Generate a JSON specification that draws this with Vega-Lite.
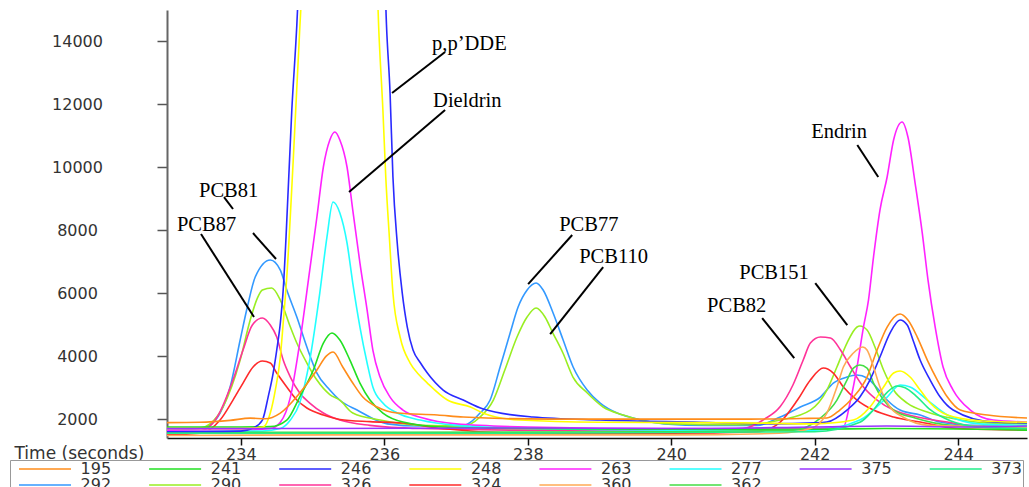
{
"$schema": "https://vega.github.io/schema/vega-lite/v6.json",
"width": 860, "height": 428,
"autosize": {"type": "none"},
"padding": {"left": 167, "top": 10, "right": 2, "bottom": 49},
"background": "white",
"datasets": {
"traces": [
{"s":"292","t":232.97,"v":1650},{"s":"292","t":233.43,"v":1700},{"s":"292","t":233.57,"v":1811},{"s":"292","t":233.71,"v":2193},{"s":"292","t":233.85,"v":3020},{"s":"292","t":233.99,"v":4513},{"s":"292","t":234.09,"v":5561},{"s":"292","t":234.2,"v":6515},{"s":"292","t":234.41,"v":7055},{"s":"292","t":234.55,"v":6737},{"s":"292","t":234.64,"v":6102},{"s":"292","t":234.78,"v":5244},{"s":"292","t":234.92,"v":4290},{"s":"292","t":235.06,"v":3464},{"s":"292","t":235.24,"v":2924},{"s":"292","t":235.38,"v":2600},{"s":"292","t":235.62,"v":2288},{"s":"292","t":236.04,"v":1850},{"s":"292","t":236.5,"v":1780},{"s":"292","t":237.1,"v":1800},{"s":"292","t":237.335,"v":2193},{"s":"292","t":237.475,"v":2606},{"s":"292","t":237.614,"v":3655},{"s":"292","t":237.754,"v":4735},{"s":"292","t":237.865,"v":5561},{"s":"292","t":237.991,"v":6102},{"s":"292","t":238.116,"v":6324},{"s":"292","t":238.214,"v":6102},{"s":"292","t":238.353,"v":5371},{"s":"292","t":238.493,"v":4513},{"s":"292","t":238.632,"v":3655},{"s":"292","t":238.828,"v":2924},{"s":"292","t":239.009,"v":2510},{"s":"292","t":239.246,"v":2193},{"s":"292","t":239.469,"v":2034},{"s":"292","t":239.9,"v":1850},{"s":"292","t":240.5,"v":1800},{"s":"292","t":241.2,"v":1800},{"s":"292","t":241.52,"v":2066},{"s":"292","t":241.8,"v":2384},{"s":"292","t":242.08,"v":2701},{"s":"292","t":242.26,"v":3146},{"s":"292","t":242.45,"v":3337},{"s":"292","t":242.59,"v":3400},{"s":"292","t":242.73,"v":3305},{"s":"292","t":242.87,"v":2987},{"s":"292","t":243.01,"v":2606},{"s":"292","t":243.19,"v":2288},{"s":"292","t":243.47,"v":2130},{"s":"292","t":243.75,"v":1907},{"s":"292","t":244.2,"v":1800},{"s":"292","t":244.96,"v":1780},
{"s":"290","t":232.97,"v":1700},{"s":"290","t":233.43,"v":1720},{"s":"290","t":233.57,"v":1850},{"s":"290","t":233.75,"v":2384},{"s":"290","t":233.99,"v":3877},{"s":"290","t":234.13,"v":5148},{"s":"290","t":234.23,"v":5847},{"s":"290","t":234.3,"v":6102},{"s":"290","t":234.43,"v":6165},{"s":"290","t":234.55,"v":5784},{"s":"290","t":234.69,"v":4926},{"s":"290","t":234.78,"v":4417},{"s":"290","t":234.92,"v":3782},{"s":"290","t":235.06,"v":3241},{"s":"290","t":235.24,"v":2780},{"s":"290","t":235.38,"v":2600},{"s":"290","t":235.56,"v":2193},{"s":"290","t":235.94,"v":1970},{"s":"290","t":236.5,"v":1800},{"s":"290","t":237.1,"v":1780},{"s":"290","t":237.335,"v":2066},{"s":"290","t":237.52,"v":2606},{"s":"290","t":237.68,"v":3559},{"s":"290","t":237.85,"v":4608},{"s":"290","t":237.99,"v":5244},{"s":"290","t":238.116,"v":5530},{"s":"290","t":238.24,"v":5244},{"s":"290","t":238.35,"v":4735},{"s":"290","t":238.49,"v":4100},{"s":"290","t":238.63,"v":3337},{"s":"290","t":238.83,"v":2828},{"s":"290","t":239.05,"v":2384},{"s":"290","t":239.33,"v":2130},{"s":"290","t":239.57,"v":1970},{"s":"290","t":240.0,"v":1850},{"s":"290","t":241.0,"v":1820},{"s":"290","t":241.52,"v":1970},{"s":"290","t":241.94,"v":2288},{"s":"290","t":242.17,"v":2924},{"s":"290","t":242.31,"v":3655},{"s":"290","t":242.45,"v":4417},{"s":"290","t":242.59,"v":4926},{"s":"290","t":242.63,"v":4957},{"s":"290","t":242.73,"v":4830},{"s":"290","t":242.84,"v":4290},{"s":"290","t":242.96,"v":3559},{"s":"290","t":243.1,"v":2924},{"s":"290","t":243.29,"v":2510},{"s":"290","t":243.57,"v":2225},{"s":"290","t":243.89,"v":2034},{"s":"290","t":244.4,"v":1880},{"s":"290","t":244.96,"v":1850},
{"s":"326","t":232.97,"v":1600},{"s":"326","t":233.43,"v":1620},{"s":"326","t":233.67,"v":2066},{"s":"326","t":233.89,"v":3241},{"s":"326","t":234.03,"v":4195},{"s":"326","t":234.16,"v":4989},{"s":"326","t":234.3,"v":5212},{"s":"326","t":234.41,"v":4989},{"s":"326","t":234.5,"v":4608},{"s":"326","t":234.59,"v":3877},{"s":"326","t":234.69,"v":3337},{"s":"326","t":234.82,"v":2828},{"s":"326","t":234.96,"v":2510},{"s":"326","t":235.15,"v":2193},{"s":"326","t":235.38,"v":1970},{"s":"326","t":235.8,"v":1800},{"s":"326","t":236.5,"v":1700},{"s":"326","t":238.0,"v":1650},{"s":"326","t":240.0,"v":1650},{"s":"326","t":241.0,"v":1700},{"s":"326","t":241.3,"v":2000},{"s":"326","t":241.52,"v":2400},{"s":"326","t":241.7,"v":3100},{"s":"326","t":241.84,"v":3877},{"s":"326","t":241.94,"v":4417},{"s":"326","t":242.08,"v":4608},{"s":"326","t":242.22,"v":4576},{"s":"326","t":242.36,"v":4195},{"s":"326","t":242.5,"v":3655},{"s":"326","t":242.68,"v":3020},{"s":"326","t":242.87,"v":2606},{"s":"326","t":243.1,"v":2288},{"s":"326","t":243.43,"v":2066},{"s":"326","t":243.85,"v":1907},{"s":"326","t":244.3,"v":1750},{"s":"326","t":244.96,"v":1700},
{"s":"324","t":232.97,"v":1500},{"s":"324","t":233.43,"v":1550},{"s":"324","t":233.71,"v":1970},{"s":"324","t":233.89,"v":2606},{"s":"324","t":234.03,"v":3146},{"s":"324","t":234.17,"v":3655},{"s":"324","t":234.3,"v":3845},{"s":"324","t":234.41,"v":3782},{"s":"324","t":234.5,"v":3464},{"s":"324","t":234.64,"v":3020},{"s":"324","t":234.78,"v":2606},{"s":"324","t":234.92,"v":2352},{"s":"324","t":235.15,"v":2130},{"s":"324","t":235.38,"v":1990},{"s":"324","t":235.8,"v":1920},{"s":"324","t":236.26,"v":1875},{"s":"324","t":236.8,"v":1700},{"s":"324","t":238.0,"v":1550},{"s":"324","t":240.0,"v":1550},{"s":"324","t":241.2,"v":1600},{"s":"324","t":241.52,"v":1907},{"s":"324","t":241.76,"v":2606},{"s":"324","t":241.94,"v":3241},{"s":"324","t":242.12,"v":3623},{"s":"324","t":242.26,"v":3464},{"s":"324","t":242.4,"v":3020},{"s":"324","t":242.59,"v":2606},{"s":"324","t":242.82,"v":2288},{"s":"324","t":243.1,"v":2066},{"s":"324","t":243.47,"v":1907},{"s":"324","t":244.0,"v":1700},{"s":"324","t":244.96,"v":1650},
{"s":"263","t":232.97,"v":1650},{"s":"263","t":234.0,"v":1650},{"s":"263","t":234.41,"v":1700},{"s":"263","t":234.55,"v":1900},{"s":"263","t":234.69,"v":2700},{"s":"263","t":234.82,"v":4417},{"s":"263","t":234.96,"v":6737},{"s":"263","t":235.06,"v":8422},{"s":"263","t":235.15,"v":10011},{"s":"263","t":235.24,"v":10869},{"s":"263","t":235.31,"v":11123},{"s":"263","t":235.38,"v":10869},{"s":"263","t":235.48,"v":10011},{"s":"263","t":235.56,"v":8644},{"s":"263","t":235.66,"v":6960},{"s":"263","t":235.76,"v":5466},{"s":"263","t":235.84,"v":4195},{"s":"263","t":235.94,"v":3337},{"s":"263","t":236.08,"v":2701},{"s":"263","t":236.26,"v":2288},{"s":"263","t":236.54,"v":2034},{"s":"263","t":237.0,"v":1850},{"s":"263","t":238.0,"v":1750},{"s":"263","t":240.0,"v":1700},{"s":"263","t":242.0,"v":1700},{"s":"263","t":242.4,"v":1748},{"s":"263","t":242.5,"v":2606},{"s":"263","t":242.59,"v":3655},{"s":"263","t":242.68,"v":4926},{"s":"263","t":242.75,"v":5784},{"s":"263","t":242.82,"v":7150},{"s":"263","t":242.91,"v":8644},{"s":"263","t":243.01,"v":9693},{"s":"263","t":243.1,"v":10869},{"s":"263","t":243.22,"v":11441},{"s":"263","t":243.3,"v":10964},{"s":"263","t":243.4,"v":9502},{"s":"263","t":243.5,"v":7913},{"s":"263","t":243.58,"v":6419},{"s":"263","t":243.68,"v":4926},{"s":"263","t":243.79,"v":3655},{"s":"263","t":243.93,"v":2924},{"s":"263","t":244.17,"v":2288},{"s":"263","t":244.49,"v":1970},{"s":"263","t":244.96,"v":1907},
{"s":"277","t":232.97,"v":1600},{"s":"277","t":234.3,"v":1620},{"s":"277","t":234.55,"v":1700},{"s":"277","t":234.69,"v":1970},{"s":"277","t":234.82,"v":2510},{"s":"277","t":234.96,"v":3877},{"s":"277","t":235.1,"v":6006},{"s":"277","t":235.2,"v":7786},{"s":"277","t":235.285,"v":8898},{"s":"277","t":235.38,"v":8549},{"s":"277","t":235.48,"v":7596},{"s":"277","t":235.56,"v":6324},{"s":"277","t":235.66,"v":4926},{"s":"277","t":235.76,"v":3782},{"s":"277","t":235.84,"v":3020},{"s":"277","t":235.98,"v":2510},{"s":"277","t":236.18,"v":2193},{"s":"277","t":236.5,"v":1970},{"s":"277","t":237.0,"v":1800},{"s":"277","t":238.0,"v":1700},{"s":"277","t":240.0,"v":1650},{"s":"277","t":242.0,"v":1650},{"s":"277","t":242.63,"v":1970},{"s":"277","t":243.01,"v":2701},{"s":"277","t":243.19,"v":3083},{"s":"277","t":243.33,"v":3020},{"s":"277","t":243.57,"v":2606},{"s":"277","t":243.85,"v":2130},{"s":"277","t":244.3,"v":1850},{"s":"277","t":244.96,"v":1800},
{"s":"241","t":232.97,"v":1750},{"s":"241","t":234.0,"v":1750},{"s":"241","t":234.41,"v":1760},{"s":"241","t":234.64,"v":1970},{"s":"241","t":234.82,"v":2701},{"s":"241","t":235.01,"v":3559},{"s":"241","t":235.15,"v":4417},{"s":"241","t":235.27,"v":4735},{"s":"241","t":235.38,"v":4513},{"s":"241","t":235.52,"v":3877},{"s":"241","t":235.66,"v":3146},{"s":"241","t":235.8,"v":2606},{"s":"241","t":235.98,"v":2193},{"s":"241","t":236.26,"v":1907},{"s":"241","t":236.8,"v":1750},{"s":"241","t":238.0,"v":1700},{"s":"241","t":240.0,"v":1680},{"s":"241","t":242.0,"v":1680},{"s":"241","t":243.0,"v":1700},{"s":"241","t":244.96,"v":1650},
{"s":"362","t":232.97,"v":1580},{"s":"362","t":236.0,"v":1580},{"s":"362","t":240.0,"v":1600},{"s":"362","t":241.7,"v":1650},{"s":"362","t":242.08,"v":2034},{"s":"362","t":242.31,"v":2606},{"s":"362","t":242.45,"v":3241},{"s":"362","t":242.54,"v":3623},{"s":"362","t":242.63,"v":3718},{"s":"362","t":242.73,"v":3623},{"s":"362","t":242.82,"v":3146},{"s":"362","t":242.96,"v":2606},{"s":"362","t":243.1,"v":2288},{"s":"362","t":243.4,"v":2034},{"s":"362","t":243.9,"v":1800},{"s":"362","t":244.96,"v":1700},
{"s":"246","t":232.97,"v":1600},{"s":"246","t":233.5,"v":1600},{"s":"246","t":234.0,"v":1620},{"s":"246","t":234.17,"v":1716},{"s":"246","t":234.3,"v":1970},{"s":"246","t":234.38,"v":2701},{"s":"246","t":234.45,"v":3464},{"s":"246","t":234.5,"v":4195},{"s":"246","t":234.55,"v":5053},{"s":"246","t":234.59,"v":6102},{"s":"246","t":234.63,"v":7800},{"s":"246","t":234.71,"v":11822},{"s":"246","t":234.78,"v":14523},{"s":"246","t":234.82,"v":16500},{"s":"246","t":235.41,"v":30000},{"s":"246","t":236.0,"v":16500},{"s":"246","t":236.03,"v":14523},{"s":"246","t":236.08,"v":12362},{"s":"246","t":236.12,"v":9693},{"s":"246","t":236.18,"v":7596},{"s":"246","t":236.25,"v":6006},{"s":"246","t":236.32,"v":4926},{"s":"246","t":236.4,"v":4195},{"s":"246","t":236.5,"v":3800},{"s":"246","t":236.6,"v":3464},{"s":"246","t":236.82,"v":2924},{"s":"246","t":237.1,"v":2606},{"s":"246","t":237.38,"v":2320},{"s":"246","t":238.07,"v":2065},{"s":"246","t":239.01,"v":1970},{"s":"246","t":240.4,"v":1900},{"s":"246","t":241.38,"v":1850},{"s":"246","t":242.0,"v":1880},{"s":"246","t":242.17,"v":1907},{"s":"246","t":242.45,"v":2288},{"s":"246","t":242.63,"v":2701},{"s":"246","t":242.77,"v":3241},{"s":"246","t":242.91,"v":3973},{"s":"246","t":243.05,"v":4735},{"s":"246","t":243.19,"v":5148},{"s":"246","t":243.29,"v":4989},{"s":"246","t":243.37,"v":4513},{"s":"246","t":243.47,"v":3877},{"s":"246","t":243.61,"v":3241},{"s":"246","t":243.75,"v":2701},{"s":"246","t":243.93,"v":2288},{"s":"246","t":244.49,"v":1907},{"s":"246","t":244.96,"v":1880},
{"s":"248","t":232.97,"v":1700},{"s":"248","t":234.0,"v":1700},{"s":"248","t":234.31,"v":1748},{"s":"248","t":234.41,"v":2193},{"s":"248","t":234.48,"v":2924},{"s":"248","t":234.55,"v":3973},{"s":"248","t":234.59,"v":5053},{"s":"248","t":234.64,"v":6515},{"s":"248","t":234.73,"v":10233},{"s":"248","t":234.82,"v":14364},{"s":"248","t":234.87,"v":16500},{"s":"248","t":235.41,"v":28000},{"s":"248","t":235.89,"v":16500},{"s":"248","t":235.92,"v":14523},{"s":"248","t":235.98,"v":11822},{"s":"248","t":236.02,"v":9693},{"s":"248","t":236.07,"v":7786},{"s":"248","t":236.12,"v":6006},{"s":"248","t":236.22,"v":4608},{"s":"248","t":236.36,"v":3782},{"s":"248","t":236.48,"v":3420},{"s":"248","t":236.6,"v":3146},{"s":"248","t":236.88,"v":2606},{"s":"248","t":237.2,"v":2384},{"s":"248","t":237.38,"v":2190},{"s":"248","t":237.89,"v":1970},{"s":"248","t":239.0,"v":1900},{"s":"248","t":241.0,"v":1880},{"s":"248","t":242.0,"v":1850},{"s":"248","t":242.54,"v":1970},{"s":"248","t":242.77,"v":2384},{"s":"248","t":242.96,"v":3020},{"s":"248","t":243.1,"v":3464},{"s":"248","t":243.19,"v":3527},{"s":"248","t":243.33,"v":3337},{"s":"248","t":243.47,"v":2924},{"s":"248","t":243.61,"v":2510},{"s":"248","t":243.85,"v":2130},{"s":"248","t":244.3,"v":1950},{"s":"248","t":244.96,"v":1900},
{"s":"195","t":232.97,"v":1890},{"s":"195","t":233.43,"v":1900},{"s":"195","t":233.85,"v":1960},{"s":"195","t":234.13,"v":2030},{"s":"195","t":234.34,"v":2010},{"s":"195","t":234.55,"v":2193},{"s":"195","t":234.82,"v":2828},{"s":"195","t":235.06,"v":3559},{"s":"195","t":235.19,"v":4000},{"s":"195","t":235.285,"v":4131},{"s":"195","t":235.42,"v":3655},{"s":"195","t":235.56,"v":3146},{"s":"195","t":235.7,"v":2701},{"s":"195","t":235.9,"v":2384},{"s":"195","t":236.18,"v":2193},{"s":"195","t":236.74,"v":2130},{"s":"195","t":237.1,"v":2066},{"s":"195","t":238.31,"v":2000},{"s":"195","t":239.71,"v":2000},{"s":"195","t":241.1,"v":2000},{"s":"195","t":241.8,"v":2020},{"s":"195","t":242.17,"v":2034},{"s":"195","t":242.35,"v":2288},{"s":"195","t":242.54,"v":2701},{"s":"195","t":242.73,"v":3337},{"s":"195","t":242.87,"v":4195},{"s":"195","t":243.01,"v":4926},{"s":"195","t":243.19,"v":5339},{"s":"195","t":243.3,"v":5148},{"s":"195","t":243.43,"v":4608},{"s":"195","t":243.57,"v":3877},{"s":"195","t":243.71,"v":3241},{"s":"195","t":243.85,"v":2701},{"s":"195","t":244.03,"v":2288},{"s":"195","t":244.41,"v":2130},{"s":"195","t":244.96,"v":2034},
{"s":"360","t":232.97,"v":1480},{"s":"360","t":236.0,"v":1500},{"s":"360","t":240.0,"v":1500},{"s":"360","t":241.5,"v":1550},{"s":"360","t":241.94,"v":1700},{"s":"360","t":242.17,"v":2193},{"s":"360","t":242.31,"v":3020},{"s":"360","t":242.4,"v":3655},{"s":"360","t":242.54,"v":4100},{"s":"360","t":242.67,"v":4290},{"s":"360","t":242.73,"v":4195},{"s":"360","t":242.82,"v":3655},{"s":"360","t":242.91,"v":3020},{"s":"360","t":243.05,"v":2384},{"s":"360","t":243.23,"v":2066},{"s":"360","t":243.6,"v":1800},{"s":"360","t":244.96,"v":1750},
{"s":"373","t":232.97,"v":1550},{"s":"373","t":238.0,"v":1550},{"s":"373","t":242.0,"v":1600},{"s":"373","t":242.63,"v":1900},{"s":"373","t":242.82,"v":2300},{"s":"373","t":243.01,"v":2850},{"s":"373","t":243.15,"v":3050},{"s":"373","t":243.26,"v":3000},{"s":"373","t":243.43,"v":2700},{"s":"373","t":243.61,"v":2300},{"s":"373","t":243.89,"v":1950},{"s":"373","t":244.3,"v":1750},{"s":"373","t":244.96,"v":1700},
{"s":"375","t":232.97,"v":1700},{"s":"375","t":235.0,"v":1700},{"s":"375","t":238.0,"v":1720},{"s":"375","t":240.0,"v":1700},{"s":"375","t":242.0,"v":1750},{"s":"375","t":243.0,"v":1780},{"s":"375","t":244.0,"v":1750},{"s":"375","t":244.96,"v":1780}
],
"labels": [
{"label":"p,p’DDE","t":236.666,"v":13729},
{"label":"Dieldrin","t":236.68,"v":11917},
{"label":"PCB81","t":233.416,"v":9057},
{"label":"PCB87","t":233.109,"v":7977},
{"label":"PCB77","t":238.437,"v":7977},
{"label":"PCB110","t":238.716,"v":6960},
{"label":"Endrin","t":241.952,"v":10932},
{"label":"PCB151","t":240.948,"v":6451},
{"label":"PCB82","t":240.5,"v":5402}
],
"leaders": [
{"t":236.847,"v":13665,"t2":236.108,"v2":12362},
{"t":236.847,"v":11822,"t2":235.508,"v2":9216},
{"t":233.765,"v":9057,"t2":233.89,"v2":8676},
{"t":234.169,"v":7913,"t2":234.49,"v2":7087},
{"t":233.444,"v":7881,"t2":234.183,"v2":5244},
{"t":238.619,"v":7850,"t2":238.005,"v2":6292},
{"t":239.051,"v":6833,"t2":238.312,"v2":4703},
{"t":242.594,"v":10710,"t2":242.886,"v2":9693},
{"t":242.008,"v":6324,"t2":242.454,"v2":4989},
{"t":241.268,"v":5212,"t2":241.715,"v2":3941}
]
},
"layer": [
{
"data": {"name": "traces"},
"mark": {"type": "line", "clip": true, "interpolate": "monotone", "strokeWidth": 1.6},
"encoding": {
"x": {"field": "t", "type": "quantitative", "scale": {"domain": [232.97, 244.96], "nice": false, "zero": false},
"axis": {"title": "Time (seconds)", "values": [234, 236, 238, 240, 242, 244], "format": "d", "grid": false,
"domainColor": "#111", "domainWidth": 1.5, "tickColor": "#111", "tickWidth": 1.5, "tickSize": 7,
"labelFont": "DejaVu Sans", "labelFontSize": 16, "labelColor": "#333", "labelPadding": 1, "labelFlush": false, "labelOverlap": false,
"titleFont": "DejaVu Sans", "titleFontSize": 17, "titleFontWeight": "normal", "titleColor": "#333",
"titleX": -153, "titleY": 15, "titleAlign": "left", "titleBaseline": "middle", "titleAngle": 0}},
"y": {"field": "v", "type": "quantitative", "scale": {"domain": [1400, 15000], "nice": false, "zero": false},
"axis": {"title": null, "values": [2000, 4000, 6000, 8000, 10000, 12000, 14000], "format": "d", "grid": false,
"domainColor": "#666", "domainWidth": 2, "tickColor": "#555", "tickWidth": 1.5, "tickSize": 10,
"labelFont": "DejaVu Sans", "labelFontSize": 16, "labelColor": "#333", "labelAlign": "center", "labelBaseline": "middle", "labelPadding": 80, "labelOverlap": false}},
"color": {"field": "s", "type": "nominal",
"scale": {"domain": ["195","241","246","248","263","277","375","373","292","290","326","324","360","362"],
"range": ["#ff8c1a","#22e022","#2a2aff","#ffff00","#ff22ff","#22ffff","#9933ff","#22ee88","#3399ff","#99ee22","#ff3399","#ff2a2a","#ffaa55","#44dd44"]},
"legend": {"title": null, "orient": "none", "legendX": -157, "legendY": 450, "direction": "horizontal", "columns": 8,
"symbolType": "M0,0H20", "symbolSize": 27.04, "symbolStrokeWidth": 1.5, "symbolFillColor": "transparent",
"labelFont": "DejaVu Sans", "labelFontSize": 16, "labelColor": "#333", "labelOffset": 53.6, "labelLimit": 0,
"columnPadding": 29.1, "rowPadding": 0, "padding": 1, "strokeColor": "#999", "gridAlign": "all"}}
}
},
{
"data": {"name": "leaders"},
"mark": {"type": "rule", "color": "black", "strokeWidth": 2},
"encoding": {
"x": {"field": "t", "type": "quantitative",
"axis": {"title": "Time (seconds)", "values": [234, 236, 238, 240, 242, 244], "format": "d", "grid": false,
"domainColor": "#111", "domainWidth": 1.5, "tickColor": "#111", "tickWidth": 1.5, "tickSize": 7,
"labelFont": "DejaVu Sans", "labelFontSize": 16, "labelColor": "#333", "labelPadding": 1, "labelFlush": false, "labelOverlap": false,
"titleFont": "DejaVu Sans", "titleFontSize": 17, "titleFontWeight": "normal", "titleColor": "#333",
"titleX": -153, "titleY": 15, "titleAlign": "left", "titleBaseline": "middle", "titleAngle": 0}},
"y": {"field": "v", "type": "quantitative",
"axis": {"title": null, "values": [2000, 4000, 6000, 8000, 10000, 12000, 14000], "format": "d", "grid": false,
"domainColor": "#666", "domainWidth": 2, "tickColor": "#555", "tickWidth": 1.5, "tickSize": 10,
"labelFont": "DejaVu Sans", "labelFontSize": 16, "labelColor": "#333", "labelAlign": "center", "labelBaseline": "middle", "labelPadding": 80, "labelOverlap": false}},
"x2": {"field": "t2"},
"y2": {"field": "v2"}
}
},
{
"data": {"name": "labels"},
"mark": {"type": "text", "font": "Liberation Serif", "fontSize": 20.5, "align": "left", "baseline": "alphabetic", "color": "black"},
"encoding": {
"x": {"field": "t", "type": "quantitative",
"axis": {"title": "Time (seconds)", "values": [234, 236, 238, 240, 242, 244], "format": "d", "grid": false,
"domainColor": "#111", "domainWidth": 1.5, "tickColor": "#111", "tickWidth": 1.5, "tickSize": 7,
"labelFont": "DejaVu Sans", "labelFontSize": 16, "labelColor": "#333", "labelPadding": 1, "labelFlush": false, "labelOverlap": false,
"titleFont": "DejaVu Sans", "titleFontSize": 17, "titleFontWeight": "normal", "titleColor": "#333",
"titleX": -153, "titleY": 15, "titleAlign": "left", "titleBaseline": "middle", "titleAngle": 0}},
"y": {"field": "v", "type": "quantitative",
"axis": {"title": null, "values": [2000, 4000, 6000, 8000, 10000, 12000, 14000], "format": "d", "grid": false,
"domainColor": "#666", "domainWidth": 2, "tickColor": "#555", "tickWidth": 1.5, "tickSize": 10,
"labelFont": "DejaVu Sans", "labelFontSize": 16, "labelColor": "#333", "labelAlign": "center", "labelBaseline": "middle", "labelPadding": 80, "labelOverlap": false}},
"text": {"field": "label"}
}
}
],
"config": {
"view": {"stroke": null}
}
}
